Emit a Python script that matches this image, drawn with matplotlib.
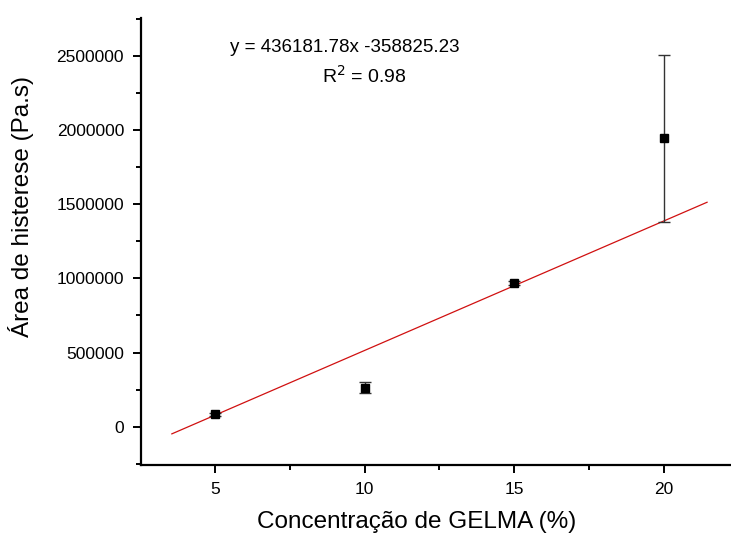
import numpy as np
import matplotlib.pyplot as plt
from matplotlib.ticker import MultipleLocator

plt.rcParams['font.family'] = ['Liberation Sans', 'DejaVu Sans']

concentracao = [5, 10, 15, 20]
area = [83000, 263000, 968000, 1943000]
erro = [12000, 36000, 14000, 565000]

# ajuste linear (x em passos de 5%)
coef_a = 436181.78
coef_b = -358825.23
x_fit = np.array([3.56, 21.45])
y_fit = coef_a * (x_fit / 5) + coef_b

fig = plt.figure(figsize=(7.31, 5.38), dpi=100)
ax = fig.add_axes([0.1925, 0.1357, 0.8075, 0.8303])

ax.plot(x_fit, y_fit, color='#d01010', linewidth=0.9, zorder=2)
ax.errorbar(concentracao, area, yerr=erro, fmt='s', color='black', markersize=6,
            ecolor='#333333', elinewidth=1.0, capsize=4, capthick=1.0, zorder=3)

ax.set_xlim(2.52, 22.25)
ax.set_ylim(-258000, 2752000)
ax.xaxis.set_major_locator(MultipleLocator(5))
ax.xaxis.set_minor_locator(MultipleLocator(2.5))
ax.yaxis.set_major_locator(MultipleLocator(500000))
ax.yaxis.set_minor_locator(MultipleLocator(250000))
ax.ticklabel_format(style='plain', axis='y')

for s in ['top', 'right']:
    ax.spines[s].set_visible(False)
for s in ['left', 'bottom']:
    ax.spines[s].set_linewidth(1.6)

ax.tick_params(which='major', direction='out', length=6, width=1.4, labelsize=12.5, pad=6)
ax.tick_params(which='minor', direction='out', length=3.5, width=1.4)

ax.set_xlabel('Concentração de GELMA (%)', fontsize=17.5, va='center')
ax.set_ylabel('Área de histerese (Pa.s)', fontsize=17.5, va='center')
ax.xaxis.set_label_coords(0.468, -0.128)
ax.yaxis.set_label_coords(-0.203, 0.578)

fig.text(345 / 731, 1 - 47 / 538, 'y = 436181.78x -358825.23', ha='center', va='center', fontsize=13.5)
fig.text(364 / 731, 1 - 76 / 538, 'R$^2$ = 0.98', ha='center', va='center', fontsize=14)

plt.savefig('out.png', dpi=100)
